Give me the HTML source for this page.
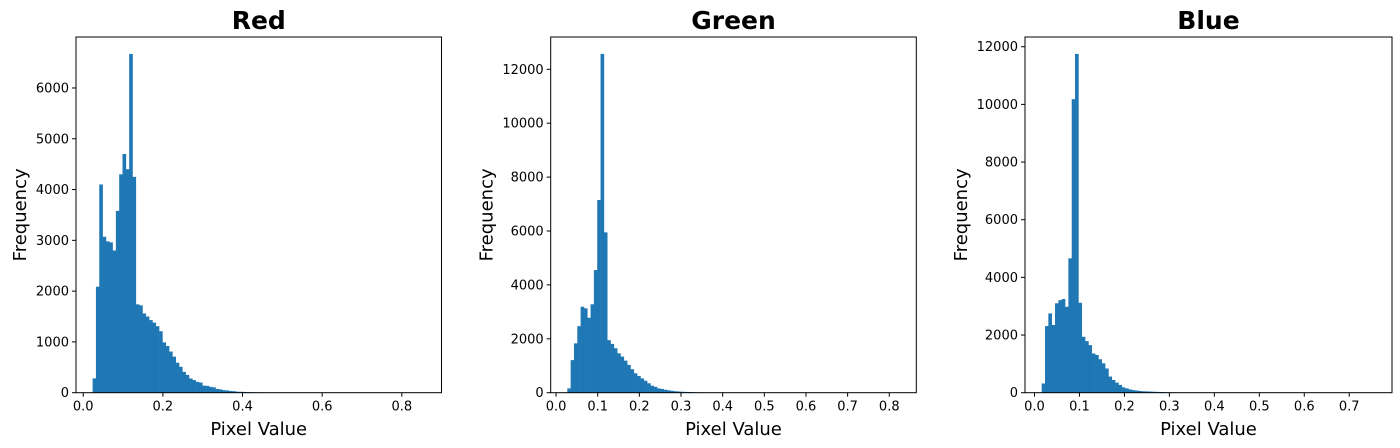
<!DOCTYPE html>
<html><head><meta charset="utf-8">
<style>
html,body{margin:0;padding:0;background:#fff;}
svg{display:block;font-family:"DejaVu Sans","Liberation Sans",sans-serif;}
</style></head>
<body>
<svg id="fig" width="1400" height="448" viewBox="0 0 1400 448" xmlns="http://www.w3.org/2000/svg"></svg>
<script>
const panelTitles = ["Red","Green","Blue"];
const redCounts = [
282,2087,4100,3070,2980,2960,2800,3580,4300,4700,
4400,6670,4250,1740,1720,1560,1500,1430,1380,1310,
1210,990,920,810,710,590,510,410,350,280,
250,215,200,140,135,115,105,75,65,50,
45,35,30,20,18,15,12,10,8,7,
6,5,4,4,3,3,2,2,2,1,
1,1,1,0,1,0,0,1,0,0,
0,0,0,0,0,0,0,0,0,0,
0,0,0,0,0,0,0,0,0,0,
0,0,0,0,0,0,0,0,0,1];
const greenCounts = [
160,1210,1830,2470,3190,3130,2780,3280,4550,7150,
12570,5950,1950,1810,1650,1460,1340,1190,1030,870,
720,620,530,445,350,260,220,160,140,110,
90,70,55,45,35,30,25,20,15,12,
10,8,7,6,5,4,3,3,2,2,
2,1,1,1,1,0,1,0,0,0,
0,0,0,0,0,0,0,0,0,0,
0,0,0,0,0,0,0,0,0,0,
0,0,0,0,0,0,0,0,0,0,
0,0,0,0,0,0,0,0,0,1];
const blueCounts = [
320,2310,2750,2350,3100,3210,3250,2980,4660,10180,
11750,3120,1940,1790,1650,1360,1310,1160,1020,840,
560,440,350,270,185,150,115,90,75,60,
50,45,40,35,30,25,20,15,12,10,
8,7,6,5,4,3,3,2,2,2,
1,1,1,1,0,1,0,0,0,0,
0,0,0,0,0,0,0,0,0,0,
0,0,0,0,0,0,0,0,0,0,
0,0,0,0,0,0,0,0,0,0,
0,0,0,0,0,0,0,0,0,1];
const redRange = [0.0235, 0.858];
const greenRange = [0.027, 0.825];
const blueRange = [0.016, 0.758];
const redXTicks = [0.0,0.2,0.4,0.6,0.8];
const greenXTicks = [0.0,0.1,0.2,0.3,0.4,0.5,0.6,0.7,0.8];
const blueXTicks = [0.0,0.1,0.2,0.3,0.4,0.5,0.6,0.7];
const redYTicks = [0,1000,2000,3000,4000,5000,6000];
const greenYTicks = [0,2000,4000,6000,8000,10000,12000];
const blueYTicks = [0,2000,4000,6000,8000,10000,12000];

const NS = "http://www.w3.org/2000/svg";
const svgRoot = document.getElementById("fig");
function mk(tag, attrs, parent){
  const e = document.createElementNS(NS, tag);
  for (const k in attrs) e.setAttribute(k, attrs[k]);
  (parent||svgRoot).appendChild(e);
  return e;
}
const panels = [
  {title:panelTitles[0], counts:redCounts, range:redRange, xt:redXTicks, yt:redYTicks, left:76, right:441.5, key:"red"},
  {title:panelTitles[1], counts:greenCounts, range:greenRange, xt:greenXTicks, yt:greenYTicks, left:550.7, right:916.3, key:"green"},
  {title:panelTitles[2], counts:blueCounts, range:blueRange, xt:blueXTicks, yt:blueYTicks, left:1025, right:1392, key:"blue"}
];
const axTop = 37, axBottom = 392.7;
panels.forEach(p => {
  const g = mk("g", {});
  
  
  const a = p.range[0], b = p.range[1], W = b - a;
  const xmin = a - 0.05*W, xmax = b + 0.05*W;
  const ymax = Math.max(...p.counts) * 1.05;
  const xs = v => p.left + (v - xmin) / (xmax - xmin) * (p.right - p.left);
  const ys = v => axBottom - v / ymax * (axBottom - axTop);
  const n = p.counts.length, bw = W / n;
  p.counts.forEach((c, i) => {
    if (c <= 0) return;
    const x0 = xs(a + i*bw), x1 = xs(a + (i+1)*bw);
    const r = mk("rect", {x:x0, y:ys(c), width:Math.max(x1-x0+0.3,0.5), height:axBottom-ys(c), fill:"#1f77b4"}, g);
    
    
  });
  const frame = mk("rect", {x:p.left, y:axTop, width:p.right-p.left, height:axBottom-axTop, fill:"none", stroke:"#000", "stroke-width":1}, g);
  
  
  p.xt.forEach(t => {
    const x = xs(t);
    mk("line", {x1:x, x2:x, y1:axBottom, y2:axBottom+4, stroke:"#000", "stroke-width":1}, g);
    const tx = mk("text", {x:x, y:axBottom+18, "text-anchor":"middle", "font-size":13, fill:"#000"}, g);
    tx.textContent = t.toFixed(1);
    
    
  });
  p.yt.forEach(t => {
    const y = ys(t);
    mk("line", {x1:p.left-4, x2:p.left, y1:y, y2:y, stroke:"#000", "stroke-width":1}, g);
    const ty = mk("text", {x:p.left-7, y:y+4.5, "text-anchor":"end", "font-size":13, fill:"#000"}, g);
    ty.textContent = String(t);
    
    
  });
  const cx = (p.left + p.right) / 2;
  const tt = mk("text", {x:cx, y:29, "text-anchor":"middle", "font-size":25, "font-weight":"bold", fill:"#000"}, g);
  tt.textContent = p.title;
  
  
  const xl = mk("text", {x:cx, y:435, "text-anchor":"middle", "font-size":18, fill:"#000"}, g);
  xl.textContent = "Pixel Value";
  
  
  const lx = p.left - 50 - (p.yt[p.yt.length-1] >= 10000 ? 8 : 0);
  const yl = mk("text", {x:lx, y:(axTop+axBottom)/2, "text-anchor":"middle", "font-size":18, fill:"#000", transform:"rotate(-90 "+lx+" "+((axTop+axBottom)/2)+")"}, g);
  yl.textContent = "Frequency";
  
  
});
</script>
</body></html>
